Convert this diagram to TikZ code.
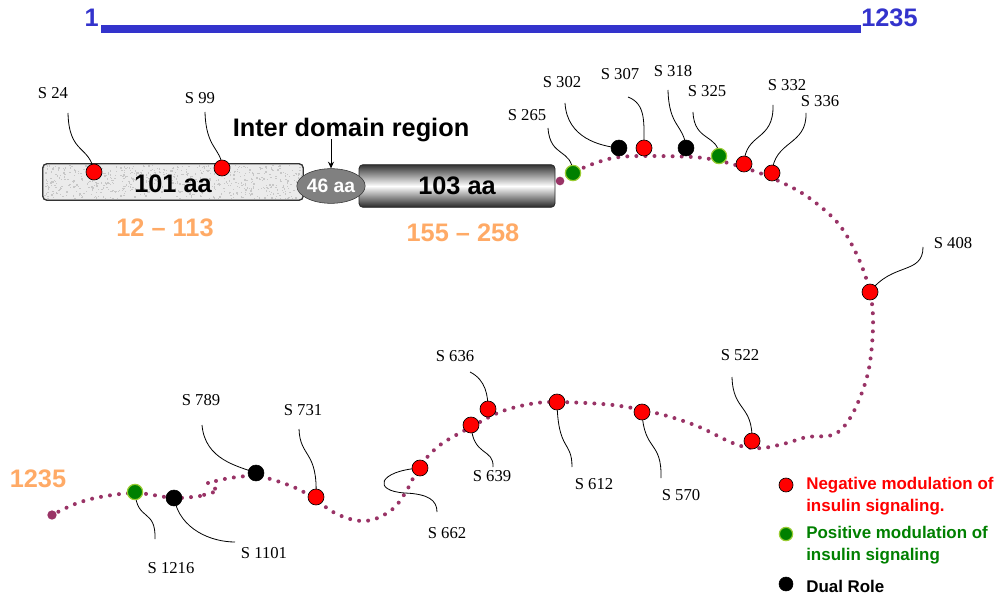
\documentclass[tikz,border=0pt]{standalone}
\usepackage{fontspec}
\setmainfont{Liberation Sans}
\newfontfamily\labserif{Liberation Serif}
\usetikzlibrary{shapes.geometric,arrows.meta,calc}

\definecolor{bluebar}{HTML}{3333CC}
\definecolor{rangeorange}{HTML}{FFAA66}
\definecolor{chain}{HTML}{993366}
\definecolor{negred}{HTML}{FF0000}
\definecolor{posgreen}{HTML}{008000}
\definecolor{posring}{HTML}{99CC33}

\tikzset{
  big/.style={font=\bfseries\fontsize{19}{22}\selectfont},
  rangetxt/.style={font=\bfseries\fontsize{19}{22}\selectfont, text=rangeorange},
  site/.style={font=\labserif\fontsize{12.5}{14}\selectfont, inner sep=0pt},
  chainline/.style={draw=chain, line width=3pt, line cap=round,
    dash pattern=on 0pt off 6.8pt},
  leader/.style={draw=black, line width=0.6pt},
  negdot/.style={circle, minimum size=12pt, inner sep=0pt, fill=negred, draw=black, line width=0.5pt},
  dualdot/.style={circle, minimum size=12pt, inner sep=0pt, fill=black, draw=black},
  posdot/.style={circle, minimum size=11.5pt, inner sep=0pt, fill=posgreen, draw=posring, line width=0.9pt},
  enddot/.style={circle, minimum size=6.5pt, inner sep=0pt, fill=chain},
  legtxt/.style={font=\bfseries\fontsize{12.7}{16}\selectfont, align=left, anchor=west, inner sep=0pt},
}

\begin{document}
\begin{tikzpicture}[x=0.75pt, y=-0.75pt]
\useasboundingbox (0,0) rectangle (998,598);

% ---- length scale bar ----
\node[big, text=bluebar, anchor=east, inner sep=0pt] (one) at (99,18) {1};
\node[big, text=bluebar, anchor=west, inner sep=0pt] (full) at (861,18) {1235};
\fill[bluebar] (101,25) rectangle (861,33);

% ---- domains ----
\node[draw=black!80, rounded corners=3pt, fill=black!8, minimum width=195pt,
      minimum height=27pt, inner sep=0pt, line width=0.6pt] (dom1) at (173,182) {};
\begin{scope}
  \clip[rounded corners=3pt] (44,165) rectangle (302,199);
  \pgfmathsetseed{11}
  \foreach \i in {1,...,700} {
    \pgfmathsetmacro\rx{44+rnd*258}
    \pgfmathsetmacro\ry{165+rnd*34}
    \fill[black!22] (\rx,\ry) rectangle ++(1.3,1.3);
  }
\end{scope}
\draw[draw=black!80, rounded corners=3pt, line width=0.6pt] (dom1.north west) rectangle (dom1.south east);
\node[big] at (173,184) {101 aa};

\node[rounded corners=3pt, draw=black!85, line width=0.6pt,
      top color=black!80, bottom color=black!85, middle color=white,
      minimum width=147pt, minimum height=32pt, inner sep=0pt] (dom2) at (457,186) {};
\node[big] at (457,186) {103 aa};

\node[ellipse, draw=black!80, fill=black!50, minimum width=42pt, minimum height=26pt,
      inner sep=0pt, text=white, font=\bfseries\fontsize{14.5}{16}\selectfont] (ell) at (331,186) {46 aa};

\node[big, inner sep=0pt] (inter) at (351,130) {Inter domain region};
\draw[-{Stealth[length=5pt,width=4.5pt]}, line width=0.7pt] ($(inter.south -| ell.north)+(0,-3)$) -- (ell.north);

\node[rangetxt] (r1) at (165,228) {12 -- 113};
\node[rangetxt] (r2) at (463,233) {155 -- 258};
\node[rangetxt, inner sep=0pt] (r3) at (38,479) {1235};

% ---- unstructured chain ----
\path[chainline] plot[smooth, tension=0.55] coordinates {
  (560,181) (573,173) (590,165) (613,158) (640,156) (693,157) (720,161)
  (745,168) (772,178) (805,195) (837,222) (857,255) (870,292) (873,327)
  (868,373) (853,413) (835,434) (807,437) (787,443) (763,448) (745,447)
  (728,441) (697,426) (660,414) (613,405) (557,402) (530,404) (500,412)
  (471,427) (440,445) (420,466) (407,490) (395,507) (380,517) (365,521)
  (350,519) (333,512) (316,500) (300,490) (280,482) (256,476) (230,478)
  (208,483)};
\path[chainline] (208,483) -- (218,491) -- (200,496);
\path[chainline] plot[smooth, tension=0.55] coordinates {
  (200,496) (174,498) (136,493) (100,497) (75,504) (52,515)};

\node[enddot] (nterm) at (560,181) {};
\node[enddot, minimum size=7pt] (cterm) at (52,515) {};

% ---- site labels ----
\node[site] (t24)   at (53,93)   {S 24};
\node[site] (t99)   at (200,98)  {S 99};
\node[site] (t265)  at (527,115) {S 265};
\node[site] (t302)  at (562,82)  {S 302};
\node[site] (t307)  at (620,74)  {S 307};
\node[site] (t318)  at (673,71)  {S 318};
\node[site] (t325)  at (707,91)  {S 325};
\node[site] (t332)  at (787,85)  {S 332};
\node[site] (t336)  at (820,101) {S 336};
\node[site] (t408)  at (953,243) {S 408};
\node[site] (t522)  at (740,355) {S 522};
\node[site] (t636)  at (455,356) {S 636};
\node[site] (t639)  at (492,476) {S 639};
\node[site] (t612)  at (594,484) {S 612};
\node[site] (t570)  at (681,495) {S 570};
\node[site] (t662)  at (447,533) {S 662};
\node[site] (t789)  at (201,400) {S 789};
\node[site] (t731)  at (303,410) {S 731};
\node[site] (t1216) at (171,568) {S 1216};
\node[site] (t1101) at (264,553) {S 1101};

% ---- leader start points ----
\coordinate (l24)   at (68,113);
\coordinate (l99)   at (205,112);
\coordinate (l265)  at (548,128);
\coordinate (l302)  at (565,103);
\coordinate (l307)  at (628,97);
\coordinate (l318)  at (668,90);
\coordinate (l325)  at (693,112);
\coordinate (l332)  at (773,105);
\coordinate (l336)  at (806,113);
\coordinate (l408)  at (923,247);
\coordinate (l522)  at (732,377);
\coordinate (l636)  at (470,372);
\coordinate (l639)  at (493,467);
\coordinate (l612)  at (572,467);
\coordinate (l570)  at (661,478);
\coordinate (l662)  at (437,512);
\coordinate (l789)  at (202,425);
\coordinate (l731)  at (299,429);
\coordinate (l1216) at (155,539);
\coordinate (l1101) at (235,542);

% ---- phosphorylation sites ----
\coordinate (p24)   at (94,172);
\coordinate (p99)   at (222,168);
\coordinate (p265)  at (573,173);
\coordinate (p302)  at (619,148);
\coordinate (p307)  at (644,148);
\coordinate (p318)  at (686,148);
\coordinate (p325)  at (719,156);
\coordinate (p332)  at (744,164);
\coordinate (p336)  at (772,173);
\coordinate (p408)  at (870,292);
\coordinate (p522)  at (752,441);
\coordinate (p570)  at (642,412);
\coordinate (p612)  at (557,402);
\coordinate (p636)  at (488,409);
\coordinate (p639)  at (471,425);
\coordinate (p662)  at (420,468);
\coordinate (p731)  at (316,497);
\coordinate (p789)  at (256,473);
\coordinate (p1101) at (174,498);
\coordinate (p1216) at (135,492);

% leaders (drawn under the site markers)
\draw[leader] (l24) .. controls (69,155) and (90,145) .. (p24);
\draw[leader] (l99) .. controls (206,150) and (222,148) .. (p99);
\draw[leader] (l265) .. controls (550,158) and (572,148) .. (p265);
\draw[leader] (l302) .. controls (567,138) and (600,146) .. (p302);
\draw[leader] (l307) .. controls (646,104) and (644,122) .. (p307);
\draw[leader] (l318) .. controls (669,128) and (684,124) .. (p318);
\draw[leader] (l325) .. controls (694,142) and (719,134) .. (p325);
\draw[leader] (l332) .. controls (774,142) and (745,132) .. (p332);
\draw[leader] (l336) .. controls (807,146) and (774,140) .. (p336);
\draw[leader] (l408) .. controls (923,275) and (892,262) .. (p408);
\draw[leader] (l522) .. controls (733,412) and (753,404) .. (p522);
\draw[leader] (l636) .. controls (486,380) and (488,396) .. (p636);
\draw[leader] (p639) .. controls (473,457) and (494,448) .. (l639);
\draw[leader] (p612) .. controls (558,452) and (572,440) .. (l612);
\draw[leader] (p570) .. controls (644,452) and (662,440) .. (l570);
\draw[leader] (p662) .. controls (378,471) and (372,491) .. (405,493)
                     .. controls (428,494) and (437,500) .. (l662);
\draw[leader] (l789) .. controls (205,460) and (238,466) .. (p789);
\draw[leader] (l731) .. controls (300,458) and (318,450) .. (p731);
\draw[leader] (p1216) .. controls (137,522) and (156,508) .. (l1216);
\draw[leader] (p1101) .. controls (180,530) and (212,542) .. (l1101);

\node[negdot]  (s24)   at (p24)   {};
\node[negdot]  (s99)   at (p99)   {};
\node[posdot]  (s265)  at (p265)  {};
\node[dualdot] (s302)  at (p302)  {};
\node[negdot]  (s307)  at (p307)  {};
\node[dualdot] (s318)  at (p318)  {};
\node[posdot]  (s325)  at (p325)  {};
\node[negdot]  (s332)  at (p332)  {};
\node[negdot]  (s336)  at (p336)  {};
\node[negdot]  (s408)  at (p408)  {};
\node[negdot]  (s522)  at (p522)  {};
\node[negdot]  (s570)  at (p570)  {};
\node[negdot]  (s612)  at (p612)  {};
\node[negdot]  (s636)  at (p636)  {};
\node[negdot]  (s639)  at (p639)  {};
\node[negdot]  (s662)  at (p662)  {};
\node[negdot]  (s731)  at (p731)  {};
\node[dualdot] (s789)  at (p789)  {};
\node[dualdot] (s1101) at (p1101) {};
\node[posdot]  (s1216) at (p1216) {};

% ---- legend ----
\node[negdot, minimum size=10.5pt]  (kneg)  at (786,485) {};
\node[posdot, minimum size=10pt]    (kpos)  at (786,534) {};
\node[dualdot, minimum size=10.5pt] (kdual) at (786,584) {};
\node[legtxt, text=negred]   (lneg)  at (806,496) {Negative modulation of\\insulin signaling.};
\node[legtxt, text=posgreen] (lpos)  at (806,545) {Positive modulation of\\insulin signaling};
\node[legtxt]                (ldual) at (806,586) {Dual Role};
\end{tikzpicture}
\end{document}
